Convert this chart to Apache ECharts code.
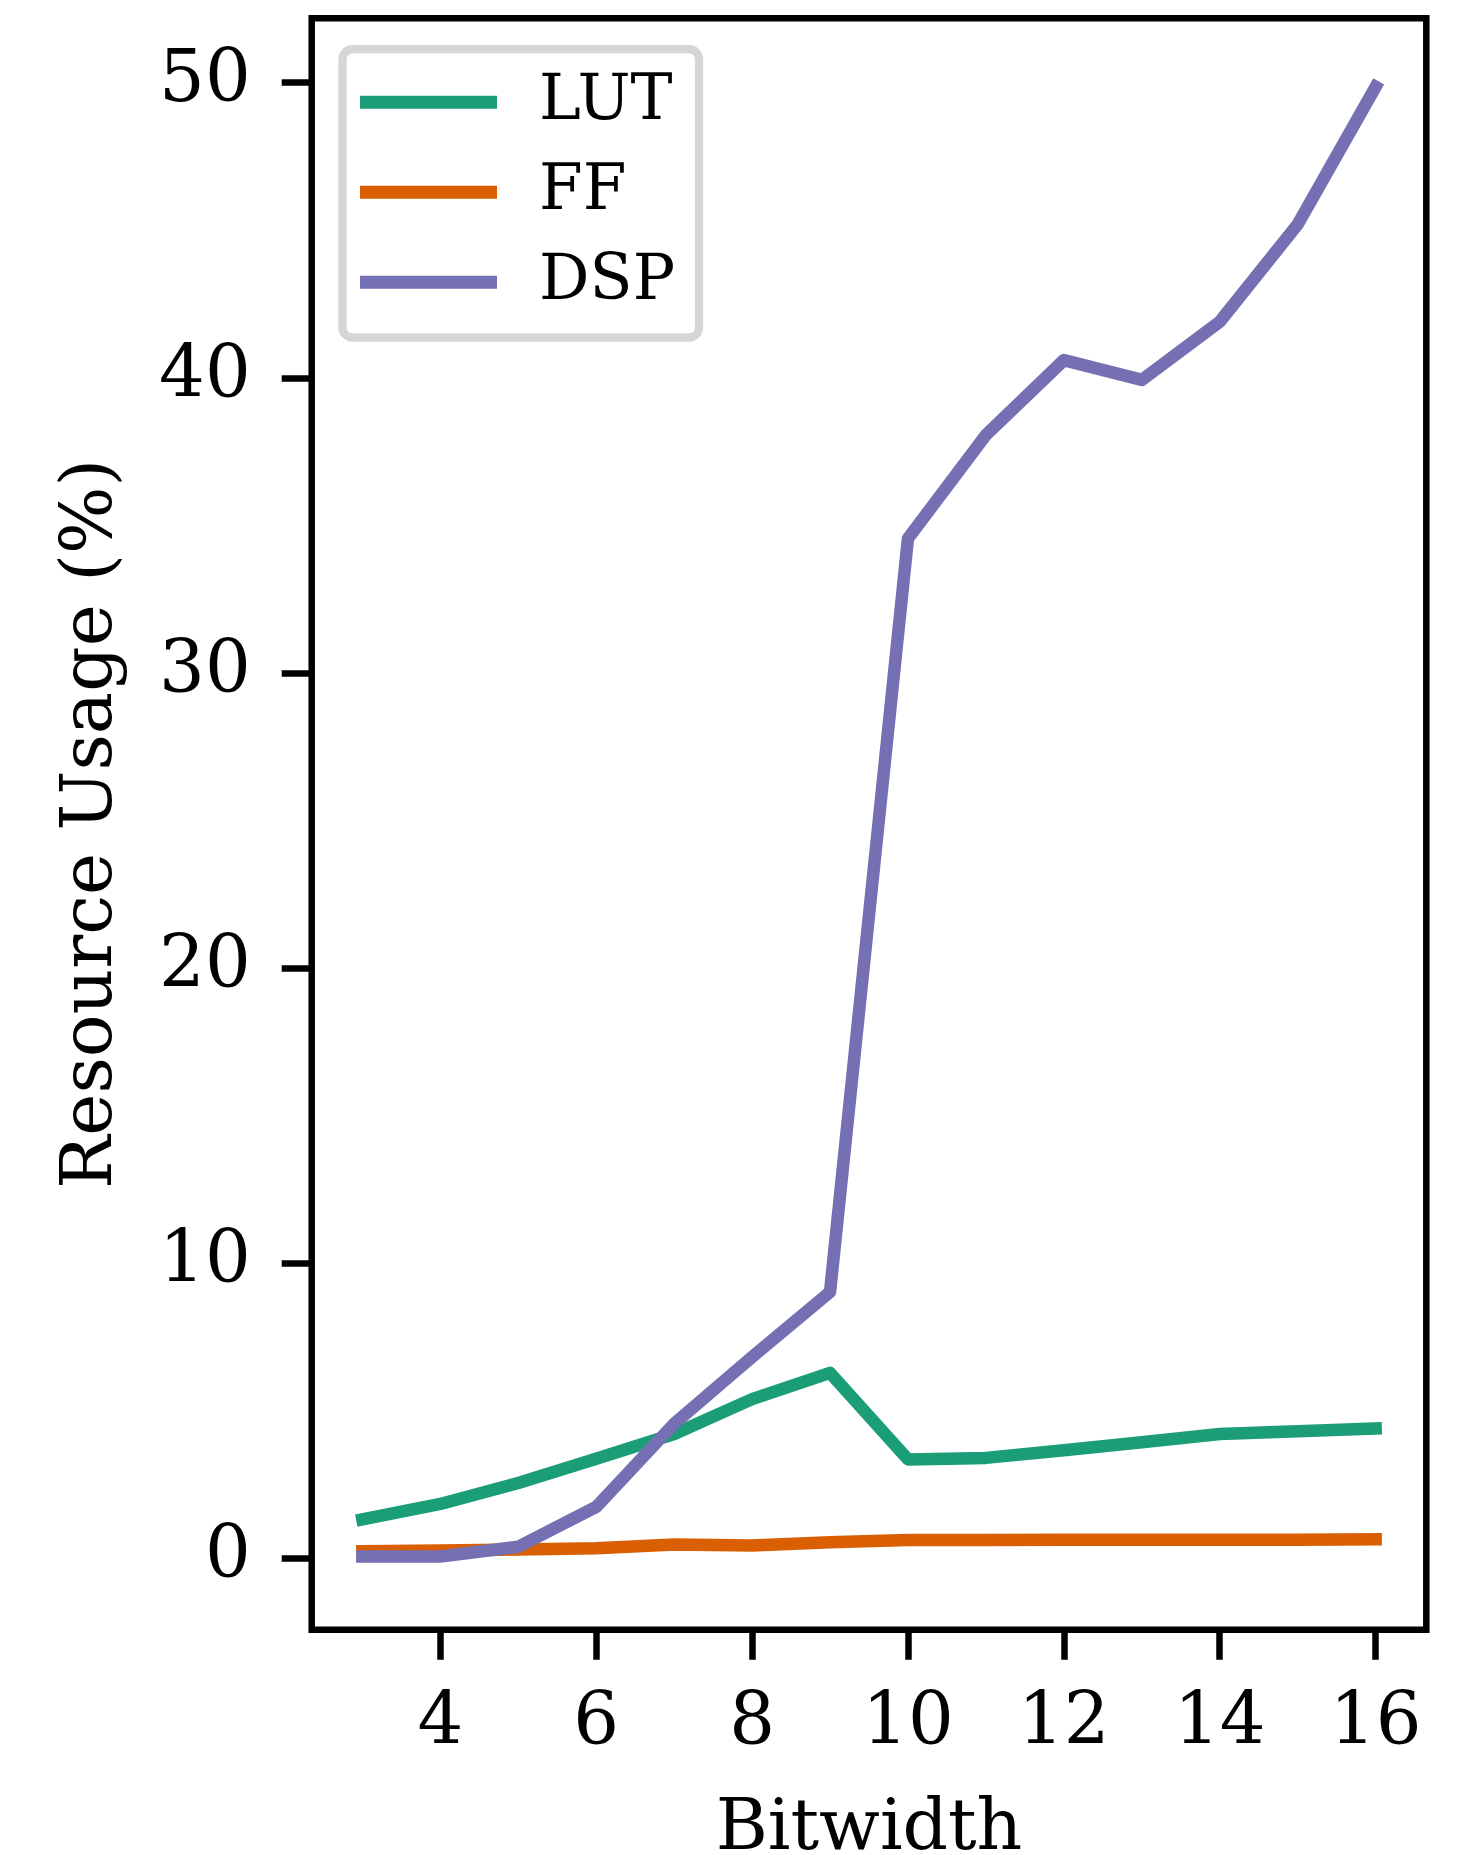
<!DOCTYPE html>
<html>
<head>
<meta charset="utf-8">
<script src="https://cdn.jsdelivr.net/npm/echarts@6/dist/echarts.min.js"></script>
<style>
  html, body { margin: 0; padding: 0; background: #fff; }
  #chart { width: 1460px; height: 1855px; }
</style>
</head>
<body>
<div id="chart"></div>
<script>
var bitwidths = [3, 4, 5, 6, 7, 8, 9, 10, 11, 12, 13, 14, 15, 16];
var lutUsage = [1.33, 1.85, 2.56, 3.38, 4.22, 5.40, 6.29, 3.36, 3.41, 3.67, 3.94, 4.22, 4.31, 4.41];
var ffUsage = [0.25, 0.27, 0.31, 0.35, 0.48, 0.44, 0.55, 0.63, 0.63, 0.64, 0.64, 0.64, 0.64, 0.65];
var dspUsage = [0.07, 0.07, 0.40, 1.75, 4.57, 6.83, 9.03, 34.56, 38.06, 40.6, 39.93, 41.9, 45.2, 49.86];
var xTicks = [4, 6, 8, 10, 12, 14, 16];
var yTicks = [0, 10, 20, 30, 40, 50];

var seriesNames = ['LUT', 'FF', 'DSP'];
var seriesColors = ['#1b9e77', '#d95f02', '#7570b3'];
var seriesValues = [lutUsage, ffUsage, dspUsage];

function pairs(values) {
    return bitwidths.map(function (b, i) { return [b, values[i]]; });
}

var font = 'DejaVu Serif';

var option = {
    animation: false,
    backgroundColor: '#fff',
    grid: {
        left: 311.7,
        top: 18.3,
        right: 33.7,
        bottom: 225.3,
        containLabel: false,
        outerBoundsMode: 'none',
        show: true,
        borderColor: '#000',
        borderWidth: 6.5,
        backgroundColor: 'transparent'
    },
    legend: {
        orient: 'vertical',
        left: 342.5,
        top: 49.2,
        data: seriesNames,
        icon: 'rect',
        itemWidth: 137,
        itemHeight: 13,
        itemGap: 27,
        padding: [21.6, 24, 23.7, 17.5],
        borderColor: '#d6d6d6',
        borderWidth: 8.3,
        borderRadius: 10,
        backgroundColor: '#fff',
        textStyle: {
            fontFamily: font,
            fontSize: 63,
            lineHeight: 63,
            color: '#000',
            padding: [0, 0, 0, 37]
        }
    },
    xAxis: {
        type: 'value',
        min: 2.35,
        max: 16.65,
        name: 'Bitwidth',
        nameLocation: 'middle',
        nameGap: 165,
        nameMoveOverlap: false,
        nameTextStyle: { fontFamily: font, fontSize: 71, color: '#000' },
        axisLine: { show: false, onZero: false },
        axisTick: {
            show: true,
            inside: false,
            length: 30,
            customValues: xTicks,
            lineStyle: { color: '#000', width: 6.5 }
        },
        axisLabel: {
            customValues: xTicks,
            margin: 60,
            fontFamily: font,
            fontSize: 72,
            color: '#000'
        },
        splitLine: { show: false }
    },
    yAxis: {
        type: 'value',
        min: -2.41,
        max: 52.18,
        name: 'Resource Usage (%)',
        nameLocation: 'middle',
        nameGap: 184,
        nameMoveOverlap: false,
        nameTextStyle: { fontFamily: font, fontSize: 71, color: '#000' },
        axisLine: { show: false, onZero: false },
        axisTick: {
            show: true,
            inside: false,
            length: 30,
            customValues: yTicks,
            lineStyle: { color: '#000', width: 6.5 }
        },
        axisLabel: {
            customValues: yTicks,
            margin: 61,
            fontFamily: font,
            fontSize: 72,
            color: '#000'
        },
        splitLine: { show: false }
    },
    series: seriesNames.map(function (name, i) {
        return {
            name: name,
            type: 'line',
            data: pairs(seriesValues[i]),
            showSymbol: false,
            symbol: 'none',
            color: seriesColors[i],
            lineStyle: { color: seriesColors[i], width: 12.5, cap: 'square', join: 'round' },
            z: 2 + i
        };
    })
};

var chart = echarts.init(document.getElementById('chart'), null, { renderer: 'canvas' });
chart.setOption(option);
</script>
</body>
</html>
